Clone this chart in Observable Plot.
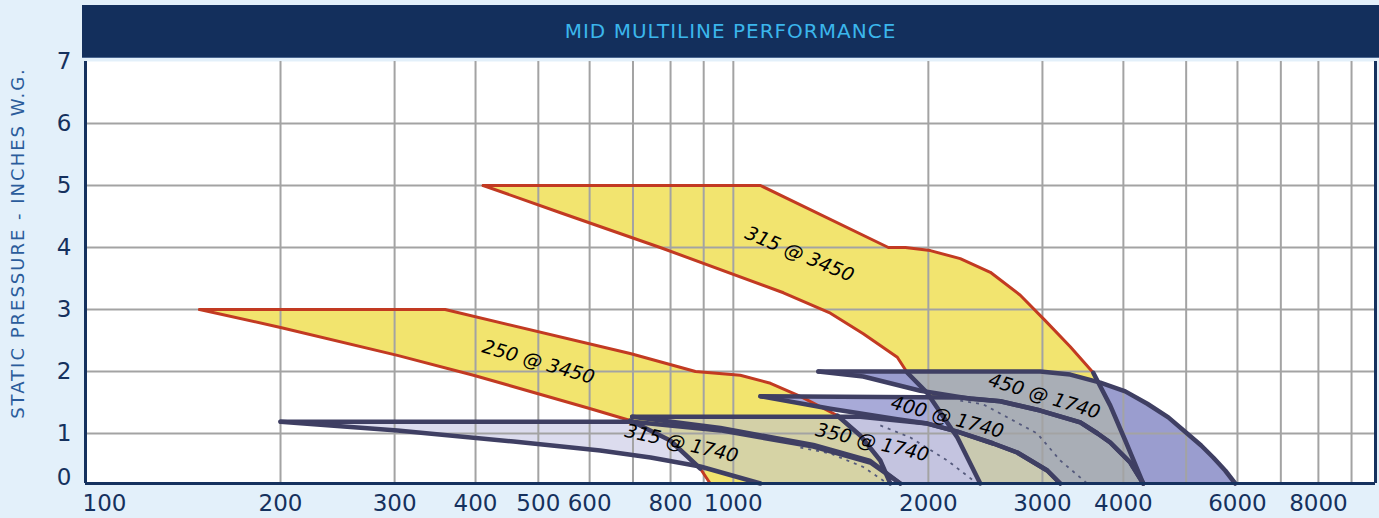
<!DOCTYPE html>
<html><head><meta charset="utf-8">
<script src="https://cdn.jsdelivr.net/npm/d3@7"></script>
<script src="https://cdn.jsdelivr.net/npm/@observablehq/plot@0.6"></script>
<style>
body{margin:0;background:#e3f0fa;width:1379px;height:518px;overflow:hidden;position:relative;font-family:"DejaVu Sans",sans-serif;}
#title{position:absolute;left:82px;top:5px;width:1297px;height:52px;background:#132f5c;color:#3bb6ec;font-size:20px;letter-spacing:1px;display:flex;align-items:center;justify-content:center;box-shadow:0 1px 0 #4a6690;}
#ylab{position:absolute;left:17px;top:243px;transform:translate(-50%,-50%) rotate(-90deg);white-space:nowrap;color:#2b5c9b;font-size:18px;letter-spacing:2px;}
#chart{position:absolute;left:0;top:57px;}
</style></head><body>
<div id="title">MID MULTILINE PERFORMANCE</div>
<div id="ylab">STATIC PRESSURE - INCHES W.G.</div>
<div id="chart"></div>
<script>
// ---- data (x = CFM, y = static pressure in. w.g.) ----
const xTicks = [100,200,300,400,500,600,800,1000,2000,3000,4000,6000,8000];
const xGrid = [200,300,400,500,600,700,800,900,1000,2000,3000,4000,5000,6000,7000,8000,9000];
const yTicks = [0,1,2,3,4,5,6,7];
const yGrid = [1,2,3,4,5,6];

// 315 @ 3450
const f315_3450_top = [[411,5.0],[1101,5.0],[1735,4.0],[1843,4.0],[2014,3.95],[2240,3.82],[2493,3.60],[2773,3.23],[3030,2.82],[3312,2.40],[3594,1.98]];
const f315_3450_topHidden = [[3594,1.98],[3818,1.45],[4027,0.86],[4293,0]];
const f315_3450_low = [[411,5.0],[541,4.56],[771,4.0],[1195,3.27],[1412,2.94],[1587,2.61],[1791,2.23],[1856,1.98]];
const f315_3450_lowHidden = [[1856,1.98],[1993,1.65],[2217,0.92],[2405,0]];
// 250 @ 3450
const f250_3450_top = [[150,3.0],[359,3.0],[693,2.29],[874,2.0],[1025,1.94],[1141,1.81],[1269,1.60],[1447,1.29]];
const f250_3450_topHidden = [[1447,1.29],[1570,0.96],[1686,0.46],[1747,0]];
const f250_3450_low = [[150,3.0],[200,2.71],[303,2.26],[397,1.94],[602,1.40],[693,1.21]];
const f250_3450_lowHidden = [[693,1.21],[799,0.86],[889,0.30]];
const f250_3450_lowEnd = [[889,0.30],[921,0]];
// 1740 rpm bands
const f315_1740_top = [[200,1.19],[698,1.19],[955,1.05],[1329,0.74],[1627,0.42],[1810,0]];
const f315_1740_low = [[200,1.19],[303,1.05],[458,0.84],[623,0.66],[745,0.52],[889,0.34],[1101,0]];
const f350_1740_top = [[698,1.27],[1570,1.27],[1993,1.16],[2217,1.03],[2519,0.80],[2743,0.62],[3052,0.26],[3196,0]];
const f350_1740_low = [[698,1.27],[955,1.09],[1329,0.77],[1627,0.45],[1810,0]];
const f400_1740_top = [[1101,1.60],[2240,1.58],[2582,1.52],[2977,1.37],[3432,1.18],[3650,1.0],[3818,0.82],[4099,0.42],[4293,0]];
const f400_1740_low = [[1101,1.60],[1412,1.40],[1791,1.23],[1993,1.16],[2217,1.03],[2519,0.80],[2743,0.62],[3052,0.26],[3196,0]];
const f450_1740_top = [[1353,2.0],[2977,2.0],[3312,1.95],[3685,1.82],[4027,1.68],[4355,1.48],[4693,1.26],[5018,1.0],[5274,0.76],[5505,0.52],[5744,0.26],[5953,0]];
const f450_1740_low = [[1353,2.0],[1587,1.92],[1944,1.69],[2321,1.56],[2582,1.52],[2977,1.37],[3432,1.18],[3650,1.0],[3818,0.82],[4099,0.42],[4293,0]];
const dash315 = [[1269,0.72],[1412,0.60],[1587,0.33],[1729,0]];
const dash350 = [[1686,1.13],[1876,0.92],[2139,0.46],[2380,0]];
const dash400 = [[2240,1.53],[2431,1.47],[2945,1.0],[3196,0.46],[3518,0]];

const bandLabels = ["315 @ 3450","250 @ 3450","315 @ 1740","350 @ 1740","400 @ 1740","450 @ 1740"];
const labelX = [1265,500,832,1639,2139,3020];
const labelY = [3.89,2.15,0.80,0.82,1.26,1.60];
const labelAngle = [22.5,16,13,13,15,17];

// ---- drawing ----
// the chart's 0–1 interval is drawn shorter than the others
const T = v => v >= 1 ? v : 0.1935 + 0.8065 * v;
const X = d => d[0], Y = d => T(d[1]);
const poly = (top, low) => top.concat(low.slice().reverse());
const join = (...parts) => parts.reduce((a, p) => a.concat(a.length ? p.slice(1) : p), []);
const RED = "#c23a22", NAVY = "#3f3f63", AX = "#15315e";
const YEL250 = "#f2e46e", YEL315 = "#f2e46f";           // same yellow, told apart for clipping
const O250 = ["#d6d3a5", "#d3d0a7"], O315 = ["#c9c9b0", "#a9aeb6"];

const fillPoly = (pts, fill) => Plot.line(pts, {x: X, y: Y, fill, fillOpacity: 1, stroke: "none", curve: "linear"});
const stroke = (pts, color, w, extra = {}) => Plot.line(pts, {x: X, y: Y, stroke: color, strokeWidth: w, curve: "linear", strokeLinejoin: "round", strokeLinecap: "round", ...extra});

const band315 = poly(f315_1740_top, f315_1740_low);
const band350 = poly(f350_1740_top, f350_1740_low);
const band400 = poly(f400_1740_top, f400_1740_low);
const band450 = poly(f450_1740_top, f450_1740_low);

const marks = [
  Plot.frame({fill: "white", stroke: "none"}),
  fillPoly(poly(join(f315_3450_top, f315_3450_topHidden), join(f315_3450_low, f315_3450_lowHidden)), YEL315),
  fillPoly(poly(join(f250_3450_top, f250_3450_topHidden), join(f250_3450_low, f250_3450_lowHidden, f250_3450_lowEnd)), YEL250),
  fillPoly(band315, "#dcdcee"),
  fillPoly(band350, "#c4c4e0"),
  fillPoly(band400, "#a8aad8"),
  fillPoly(band450, "#9a9dcf"),
  // the same bands where they lie over a yellow 3450 band
  fillPoly(band315, O250[0]),
  fillPoly(band350, O250[1]),
  fillPoly(band350, O315[0]),
  fillPoly(band400, O315[1]),
  fillPoly(band450, O315[1]),
  Plot.ruleX(xGrid, {stroke: "#a3a3a3", strokeWidth: 2}),
  Plot.ruleY(yGrid, {y: d => T(d), stroke: "#a3a3a3", strokeWidth: 2}),
  stroke(f315_3450_top, RED, 3), stroke(f315_3450_low, RED, 3),
  stroke(f250_3450_top, RED, 3), stroke(f250_3450_low, RED, 3), stroke(f250_3450_lowEnd, RED, 3),
  stroke(f315_3450_topHidden, NAVY, 4.5), stroke(f315_3450_lowHidden, NAVY, 4.5),
  stroke(f250_3450_topHidden, NAVY, 4.5), stroke(f250_3450_lowHidden, NAVY, 4.5),
  stroke(dash315, "#555a7c", 1.8, {strokeDasharray: "3,5", strokeLinecap: "butt"}),
  stroke(dash350, "#555a7c", 1.8, {strokeDasharray: "3,5", strokeLinecap: "butt"}),
  stroke(dash400, "#555a7c", 1.8, {strokeDasharray: "3,5", strokeLinecap: "butt"}),
  stroke(f315_1740_top, NAVY, 4.5), stroke(f315_1740_low, NAVY, 4.5),
  stroke(f350_1740_top, NAVY, 4.5), stroke(f350_1740_low, NAVY, 4.5),
  stroke(f400_1740_top, NAVY, 4.5), stroke(f400_1740_low, NAVY, 4.5),
  stroke(f450_1740_top, NAVY, 4.5), stroke(f450_1740_low, NAVY, 4.5),
  Plot.text(bandLabels, {x: (d, i) => labelX[i], y: (d, i) => T(labelY[i]), rotate: (d, i) => labelAngle[i], text: d => d,
    fontSize: 19, fontStyle: "italic", fill: "black"}),
  Plot.ruleX([100], {stroke: AX, strokeWidth: 3}),
  Plot.ruleX([9800], {stroke: AX, strokeWidth: 3}),
  Plot.ruleY([T(0)], {x1: 100, x2: 9800, stroke: AX, strokeWidth: 3}),
  Plot.text(xTicks.filter(d => d > 100), {x: d => d, y: T(0), dy: 20, text: d => String(d), fontSize: 23, fill: AX}),
  Plot.text(xTicks.filter(d => d === 100), {x: d => d, y: T(0), dy: 20, dx: -3, textAnchor: "start", text: d => String(d), fontSize: 23, fill: AX}),
  Plot.text(yTicks.filter(d => d > 0), {x: 100, y: d => T(d), dx: -14, textAnchor: "end", text: d => String(d), fontSize: 23, fill: AX}),
  Plot.text(yTicks.filter(d => d === 0), {x: 100, y: d => T(d), dx: -14, dy: -6, textAnchor: "end", text: d => String(d), fontSize: 23, fill: AX})
];

const chart = Plot.plot({
  width: 1379, height: 461,
  marginLeft: 85, marginRight: 4, marginTop: 4, marginBottom: 35,
  x: {type: "log", domain: [100, 9800], axis: null},
  y: {domain: [T(0), 7], axis: null},
  style: {background: "transparent", overflow: "visible", fontFamily: "DejaVu Sans, sans-serif"},
  marks
});

// clip the "over yellow" fills to the yellow band shapes
try {
  const svg = d3.select(chart.tagName.toLowerCase() === "svg" ? chart : chart.querySelector("svg"));
  const defs = svg.insert("defs", ":first-child");
  const groups = [["250", YEL250, O250], ["315", YEL315, O315]];
  for (const [id, yel, overs] of groups) {
    const cp = defs.append("clipPath").attr("id", "clipY" + id);
    svg.selectAll("[fill]").filter(function () { return (this.getAttribute("fill") || "").toLowerCase() === yel; })
      .each(function () {
        const p = this.tagName.toLowerCase() === "path" ? [this] : Array.from(this.querySelectorAll("path"));
        p.forEach(e => cp.append("path").attr("d", e.getAttribute("d")));
      });
    svg.selectAll("[fill]").filter(function () { return overs.includes((this.getAttribute("fill") || "").toLowerCase()); })
      .attr("clip-path", `url(#clipY${id})`);
  }
} catch (e) { console.error(e); }
document.getElementById("chart").appendChild(chart);
</script>
</body></html>
